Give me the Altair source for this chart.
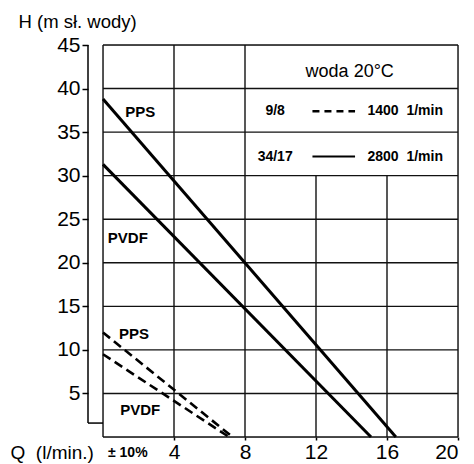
import altair as alt
import pandas as pd

# Pump curves (Q in l/min, H in m)
solid_pps_q = [0, 16.5]
solid_pps_h = [38.8, 0]
solid_pvdf_q = [0, 15.1]
solid_pvdf_h = [31.3, 0]
dashed_pps_q = [0, 7.3]
dashed_pps_h = [12.0, 0]
dashed_pvdf_q = [0, 7.1]
dashed_pvdf_h = [9.5, 0]

x_ticks = [4, 8, 12, 16, 20]
y_ticks = [5, 10, 15, 20, 25, 30, 35, 40, 45]

# grid lines: verticals (q, h_from, h_to), horizontals (h, q_from, q_to)
v_grid_q = [0, 4, 8, 12, 16, 20]
v_grid_top = [45, 45, 45, 30, 30, 45]
h_grid_h = [0, 5, 10, 15, 20, 25, 30, 35, 40, 45]

curve_labels = ["PPS", "PVDF", "PPS", "PVDF"]
curve_label_q = [2.1, 1.4, 1.75, 2.1]
curve_label_h = [37.3, 22.9, 11.8, 3.1]

NB = "\u00a0"
legend_title = "woda 20°C"
legend_rows = ["9/8", "34/17"]
legend_speed = ["1400" + NB + NB + "1/min", "2800" + NB + NB + "1/min"]
legend_row_h = [37.4, 32.2]

FONT = "Liberation Sans"

curves = []
for name, dash, qs, hs in [
    ("spps", "solid", solid_pps_q, solid_pps_h),
    ("spvdf", "solid", solid_pvdf_q, solid_pvdf_h),
    ("dpps", "dash", dashed_pps_q, dashed_pps_h),
    ("dpvdf", "dash", dashed_pvdf_q, dashed_pvdf_h),
]:
    for i, (q, h) in enumerate(zip(qs, hs)):
        curves.append({"curve": name, "style": dash, "q": q, "h": h, "o": i})
curves_df = pd.DataFrame(curves)

xs = alt.Scale(domain=[0, 20], nice=False, zero=False)
ys = alt.Scale(domain=[0, 45], nice=False, zero=False)

x_axis = alt.Axis(values=x_ticks, tickSize=3, tickColor="black", tickWidth=1.5,
                  labelFontSize=21, labelPadding=1, labelColor="black", labelFont=FONT,
                  domain=False, grid=False, title="Q" + NB + NB + "(l/min.)", titleFont=FONT,
                  titleFontSize=19, titleFontWeight="normal", titleColor="black",
                  titleX=-93, titleY=21, titleAlign="left", titleBaseline="alphabetic")
y_axis = alt.Axis(values=y_ticks, offset=15, domain=False, tickSize=6, tickColor="black",
                  tickWidth=1.5, labelFontSize=21, labelPadding=2, labelColor="black",
                  labelFont=FONT, grid=False, title="H (m sł. wody)", titleFont=FONT,
                  titleFontSize=18.5, titleFontWeight="normal", titleColor="black",
                  titleAngle=0, titleX=-70, titleY=-18, titleAlign="left",
                  titleBaseline="alphabetic")

base_line = alt.Chart(curves_df).encode(
    x=alt.X("q:Q", scale=xs, axis=x_axis),
    y=alt.Y("h:Q", scale=ys, axis=y_axis),
    detail="curve:N", order="o:Q",
)
solid = base_line.transform_filter(alt.datum.style == "solid").mark_line(
    color="black", strokeWidth=3)
dashed = base_line.transform_filter(alt.datum.style == "dash").mark_line(
    color="black", strokeWidth=2.6, strokeDash=[9, 5])

vg_df = pd.DataFrame({"q": v_grid_q, "h0": [0] * len(v_grid_q), "h1": v_grid_top})
vgrid = alt.Chart(vg_df).mark_rule(color="#111", strokeWidth=1.4).encode(
    x=alt.X("q:Q", scale=xs), y=alt.Y("h0:Q", scale=ys), y2="h1:Q")
hg_df = pd.DataFrame({"h": h_grid_h, "q0": [0] * len(h_grid_h), "q1": [20] * len(h_grid_h)})
hgrid = alt.Chart(hg_df).mark_rule(color="#111", strokeWidth=1.4).encode(
    y=alt.Y("h:Q", scale=ys), x=alt.X("q0:Q", scale=xs), x2="q1:Q")

# offset left axis line with a stub at its lower end
axis_line = alt.Chart(pd.DataFrame({"a": [45], "b": [1.6]})).mark_rule(
    color="black", strokeWidth=1.5).encode(
    x=alt.value(-15), y=alt.Y("a:Q", scale=ys), y2="b:Q")
axis_stub = alt.Chart(pd.DataFrame({"a": [1.6]})).mark_rule(
    color="black", strokeWidth=1.5).encode(
    x=alt.value(-15), x2=alt.value(0), y=alt.Y("a:Q", scale=ys))

lab_df = pd.DataFrame({"t": curve_labels, "q": curve_label_q, "h": curve_label_h})
labels = alt.Chart(lab_df).mark_text(font=FONT, fontSize=15, fontWeight=600,
                                     color="black").encode(
    x=alt.X("q:Q", scale=xs), y=alt.Y("h:Q", scale=ys), text="t:N")

title_txt = alt.Chart(pd.DataFrame({"t": [legend_title], "q": [13.9], "h": [41.9]})).mark_text(
    font=FONT, fontSize=18, color="black").encode(
    x=alt.X("q:Q", scale=xs), y=alt.Y("h:Q", scale=ys), text="t:N")
row_df = pd.DataFrame({"t": legend_rows, "s": legend_speed, "h": legend_row_h,
                       "q": [9.7, 9.7], "qs": [14.9, 14.9]})
row_txt = alt.Chart(row_df).mark_text(font=FONT, fontSize=14, fontWeight="bold",
                                      color="black").encode(
    x=alt.X("q:Q", scale=xs), y=alt.Y("h:Q", scale=ys), text="t:N")
speed_txt = alt.Chart(row_df).mark_text(font=FONT, fontSize=14, fontWeight="bold",
                                        color="black", align="left").encode(
    x=alt.X("qs:Q", scale=xs), y=alt.Y("h:Q", scale=ys), text="s:N")
leg_line_df = pd.DataFrame({"q": [11.8, 14.2], "h": [legend_row_h[0]] * 2})
leg_dash = alt.Chart(leg_line_df).mark_line(color="black", strokeWidth=2.6,
                                            strokeDash=[7, 5]).encode(
    x=alt.X("q:Q", scale=xs), y=alt.Y("h:Q", scale=ys))
leg_line2_df = pd.DataFrame({"q": [11.8, 14.2], "h": [legend_row_h[1]] * 2})
leg_solid = alt.Chart(leg_line2_df).mark_line(color="black", strokeWidth=2).encode(
    x=alt.X("q:Q", scale=xs), y=alt.Y("h:Q", scale=ys))

tol = alt.Chart(pd.DataFrame({"t": ["±" + NB + "10%"]})).mark_text(
    font=FONT, fontSize=14, fontWeight="bold", color="black", align="left",
    baseline="alphabetic").encode(x=alt.value(5), y=alt.value(412), text="t:N")

chart = alt.layer(vgrid, hgrid, axis_line, axis_stub, solid, dashed, labels,
                  title_txt, row_txt, speed_txt, leg_dash, leg_solid, tol).properties(
    width=355, height=392, autosize="none",
    padding={"left": 95, "top": 37, "right": 8, "bottom": 26},
).configure_view(stroke=None).configure(background="white")

chart.save("out.html", embed_options={"renderer": "svg", "actions": False})
